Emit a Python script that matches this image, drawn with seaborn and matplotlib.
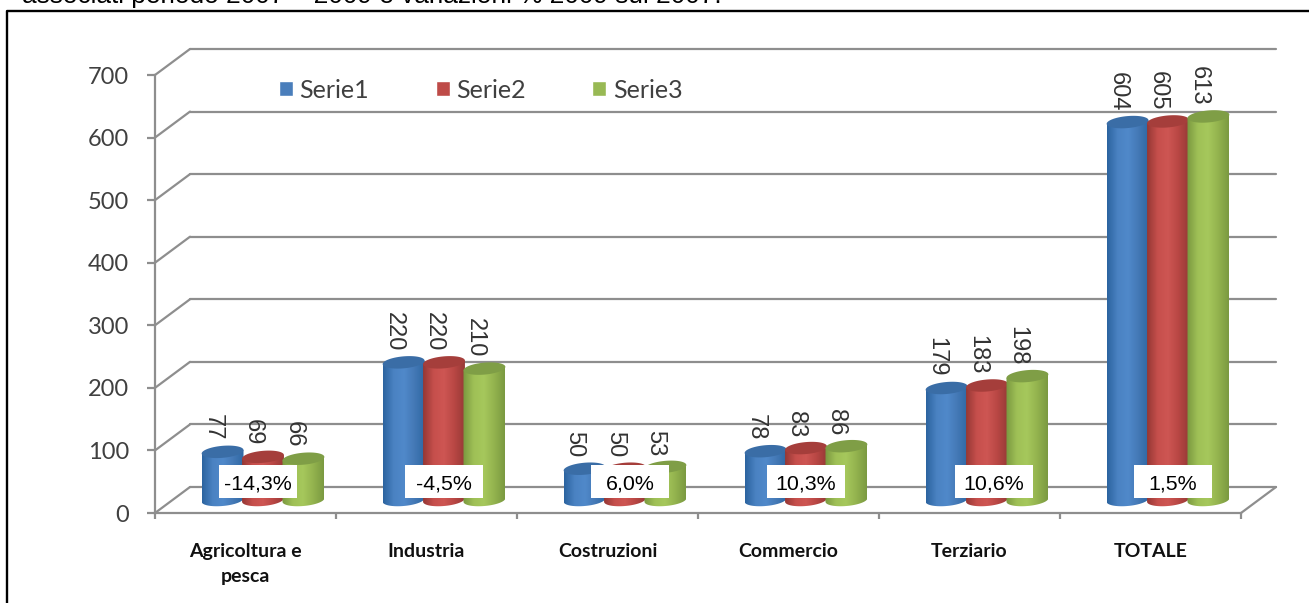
import numpy as np
import pandas as pd
import seaborn as sns
import matplotlib.pyplot as plt
from matplotlib.colors import LinearSegmentedColormap
from matplotlib.lines import Line2D
from matplotlib.patches import Polygon, Rectangle
from matplotlib.transforms import Affine2D

categories = ["Agricoltura e\npesca", "Industria", "Costruzioni", "Commercio", "Terziario", "TOTALE"]
serie1 = [77, 220, 50, 78, 179, 604]
serie2 = [69, 220, 50, 83, 183, 605]
serie3 = [66, 210, 53, 86, 198, 613]
series_names = ["Serie1", "Serie2", "Serie3"]
variations = ["-14,3%", "-4,5%", "6,0%", "10,3%", "10,6%", "1,5%"]
y_ticks = [0, 100, 200, 300, 400, 500, 600, 700]

W, H = 1309, 603
LEFT, RIGHT, TOP, BOTTOM = 155, 1241, 75, 513  # plot front plane, pixels
DEPTH_PX = (35, 26)
GREY = "#8e8e8e"

# box centres of the pasted percent labels, pixels
box_centers = [258, 444, 630, 806, 994, 1173]

colors = {"Serie1": "#4a7ebb", "Serie2": "#be4b48", "Serie3": "#98b954"}
ramps = {
    "Serie1": ["#2c64a0", "#4a82c2", "#5089ca", "#4479b6", "#2f68a4"],
    "Serie2": ["#963835", "#c64f4c", "#ce5653", "#b94744", "#983a37"],
    "Serie3": ["#7a9840", "#9fc056", "#a6c85c", "#93b34e", "#7b9a41"],
}
top_colors = {"Serie1": "#3a6da6", "Serie2": "#a53e3b", "Serie3": "#7f9e46"}

df = pd.DataFrame({
    "category": categories * 3,
    "value": serie1 + serie2 + serie3,
    "serie": np.repeat(series_names, len(categories)),
})

sns.set_theme(style="white")
plt.rcParams["font.family"] = ["Lato", "DejaVu Sans"]

fig = plt.figure(figsize=(W / 100, H / 100), dpi=100)
ax = fig.add_axes([LEFT / W, 1 - BOTTOM / H, (RIGHT - LEFT) / W, (BOTTOM - TOP) / H])

sns.barplot(data=df, x="category", y="value", hue="serie", palette=colors, saturation=1,
            width=0.67, gap=0, errorbar=None, ax=ax, zorder=3)
ax.set_xlim(-0.5, 5.5)
ax.set_ylim(0, 700)
ax.set_xlabel("")
ax.set_ylabel("")

# depth of the fake 3d box, in data units
dx = DEPTH_PX[0] * 6 / (RIGHT - LEFT)
dy = DEPTH_PX[1] * 700 / (BOTTOM - TOP)
back = Affine2D().translate(dx, dy) + ax.transData
mid = Affine2D().translate(dx / 2, dy / 2) + ax.transData

# walls
for v in y_ticks:
    ax.plot([-0.5, 5.5], [v, v], color=GREY, lw=1.6, transform=back, clip_on=False, zorder=1)
    ax.plot([-0.5, -0.5 + dx], [v, v + dy], color=GREY, lw=1.6, clip_on=False, zorder=1)
ax.plot([5.5, 5.5 + dx], [0, dy], color=GREY, lw=1.6, clip_on=False, zorder=1)

# cylinders
ell_h = 12 * 700 / (BOTTOM - TOP)
tilt = 3.5 * 700 / (BOTTOM - TOP)
t = np.linspace(np.pi, 2 * np.pi, 40)
z = 3
for name, cont in zip(series_names, ax.containers):
    cmap = LinearSegmentedColormap.from_list(name, ramps[name])
    for bar in cont:
        x0 = bar.get_x() - 0.004
        w = bar.get_width() + 0.008
        h = bar.get_height()
        bar.set_visible(False)
        cx = x0 + w / 2
        ex = cx + w / 2 * np.cos(t)
        lean = tilt * (ex - cx) / w
        low = ell_h / 2 * np.sin(t) + lean
        body = np.column_stack([
            np.r_[ex, ex[-1], ex[0]],
            np.r_[low, h + lean[-1], h + lean[0]],
        ])
        im = ax.imshow(np.linspace(0, 1, 64).reshape(1, -1), cmap=cmap, aspect="auto",
                       extent=[x0, x0 + w, -ell_h, h + ell_h], transform=mid,
                       zorder=z, clip_on=True)
        im.set_clip_path(Polygon(body, transform=mid))
        # top of the cylinder
        a = np.linspace(0, 2 * np.pi, 60)
        tx = cx + w / 2 * np.cos(a)
        ty = h + ell_h / 2 * np.sin(a) + tilt * (tx - cx) / w
        ax.add_patch(Polygon(np.column_stack([tx, ty]), facecolor=top_colors[name],
                             edgecolor="none", transform=mid, zorder=z + 0.5, clip_on=False))
        ax.annotate(f"{h:.0f}", (cx, h), xycoords=mid, xytext=(-10, 11), textcoords="offset pixels",
                    rotation=270, ha="center", va="bottom", fontsize=17, color="#333333",
                    family="Liberation Sans", zorder=20, annotation_clip=False)
        z += 1

ax.set_xlim(-0.5, 5.5)
ax.set_ylim(0, 700)

# axes
for side in ["top", "right"]:
    ax.spines[side].set_visible(False)
for side in ["left", "bottom"]:
    ax.spines[side].set_color(GREY)
    ax.spines[side].set_linewidth(1.6)
    ax.spines[side].set_zorder(2)
ax.set_yticks(y_ticks)
ax.tick_params(axis="y", length=5.5, width=1.6, color=GREY, labelsize=17, labelcolor="#404040", pad=13, left=True)
ax.set_xticks(np.arange(-0.5, 6, 1))
ax.set_xticklabels([])
ax.set_xticks(np.arange(6), labels=categories, minor=True)
ax.tick_params(axis="x", which="major", length=4, width=1.6, color=GREY, bottom=True)
ax.tick_params(axis="x", which="minor", length=0, pad=21.5, labelsize=14, labelcolor="#111111")
for lab in ax.get_xticklabels(minor=True):
    lab.set_fontweight("bold")
    lab.set_linespacing(1.55)

# legend
handles, labels = ax.get_legend_handles_labels()
ax.legend(handles, labels, loc="center left", bbox_to_anchor=(279 / W, 1 - 90 / H),
          bbox_transform=fig.transFigure, ncol=3, frameon=False, fontsize=18, borderpad=0,
          borderaxespad=0, handlelength=0.56, handleheight=0.56, handletextpad=0.26,
          columnspacing=2.66, labelcolor="#404040")

# white percent boxes
for cx, txt in zip(box_centers, variations):
    fig.add_artist(Rectangle(((cx - 39) / W, 1 - 498 / H), 78 / W, 33 / H, transform=fig.transFigure,
                             facecolor="white", edgecolor="none", zorder=5))
    fig.text(cx / W, 1 - 481.5 / H, txt, ha="center", va="center_baseline", fontsize=15.4,
             family="Liberation Sans", color="black", zorder=6)

# page frame and cut off caption
fig.add_artist(Line2D([7 / W, 7 / W, 1], [0, 1 - 10.5 / H, 1 - 10.5 / H], color="black", lw=1.7, zorder=5))
fig.text(22 / W, 1 - 3 / H, "associati periodo 2007 – 2009 e variazioni % 2009 sul 2007.", ha="left",
         va="baseline", fontsize=18.9, family="Liberation Sans", color="black")

fig.savefig("out.png", dpi=100)
plt.close(fig)
